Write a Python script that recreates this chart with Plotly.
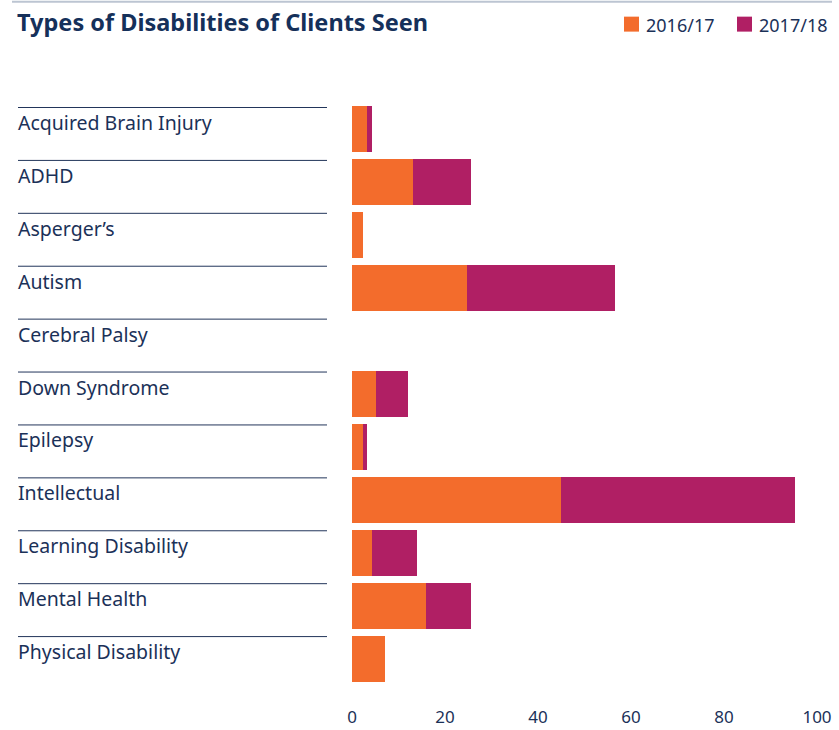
import plotly.graph_objects as go

categories = ["Acquired Brain Injury", "ADHD", "Asperger\u2019s", "Autism", "Cerebral Palsy",
              "Down Syndrome", "Epilepsy", "Intellectual", "Learning Disability",
              "Mental Health", "Physical Disability"]
series_names = ["2016/17", "2017/18"]
values_2016 = [3.2, 13.1, 2.4, 24.7, 0, 5.2, 2.4, 44.9, 4.3, 15.9, 7.1]
values_2017 = [1.1, 12.5, 0, 31.9, 0, 6.9, 0.9, 50.3, 9.7, 9.7, 0]
x_ticks = [0, 20, 40, 60, 80, 100]

ORANGE = "#F36C2C"
PURPLE = "#B01F64"
NAVY = "#1B3158"

W, H = 839, 730
L, R, T, B = 352, 22, 102.5, 44.5
PW = W - L - R
PH = H - T - B

def px_x(px):
    return (px - L) / PW

def px_y(py):
    return (H - B - py) / PH

fig = go.Figure()
fig.add_trace(go.Bar(y=categories, x=values_2016, orientation="h", name=series_names[0],
                     marker=dict(color=ORANGE, line=dict(width=0))))
fig.add_trace(go.Bar(y=categories, x=values_2017, orientation="h", name=series_names[1],
                     marker=dict(color=PURPLE, line=dict(width=0))))

shapes = []
annotations = []
for i, c in enumerate(categories):
    shapes.append(dict(type="line", xref="paper", yref="y",
                       x0=px_x(18), x1=px_x(327), y0=i - 0.415, y1=i - 0.415,
                       line=dict(color="#22355A", width=1)))
    annotations.append(dict(text=c, xref="paper", yref="y", x=px_x(16), y=i,
                            xanchor="left", yanchor="middle", yshift=7, showarrow=False,
                            font=dict(family="Noto Sans", size=19.5, color=NAVY)))

# top rule
shapes.append(dict(type="line", xref="paper", yref="paper",
                   x0=px_x(12), x1=px_x(832), y0=px_y(1), y1=px_y(1),
                   line=dict(color="#BCC5D2", width=2)))

# legend
for sx, col, name in [(624, ORANGE, series_names[0]), (737, PURPLE, series_names[1])]:
    shapes.append(dict(type="rect", xref="paper", yref="paper",
                       x0=px_x(sx), x1=px_x(sx + 15), y0=px_y(31), y1=px_y(16),
                       fillcolor=col, line=dict(width=0)))
    annotations.append(dict(text=name, xref="paper", yref="paper", x=px_x(sx + 20), y=px_y(24),
                            xanchor="left", yanchor="middle", showarrow=False,
                            font=dict(family="Noto Sans", size=18, color=NAVY)))

# title
annotations.append(dict(text="<b>Types of Disabilities of Clients Seen</b>", xref="paper", yref="paper",
                        x=px_x(15), y=px_y(21.5), xanchor="left", yanchor="middle", showarrow=False,
                        font=dict(family="Noto Sans", size=23.5, color="#15305A")))

fig.update_layout(
    width=W, height=H,
    margin=dict(l=L, r=R, t=T, b=B, pad=0, autoexpand=False),
    barmode="stack", bargap=0.13,
    plot_bgcolor="white", paper_bgcolor="white",
    showlegend=False,
    shapes=shapes, annotations=annotations,
    xaxis=dict(range=[0, 100], tickvals=x_ticks, ticktext=[str(v) for v in x_ticks],
               showgrid=False, zeroline=False, showline=False, ticks="",
               tickfont=dict(family="Noto Sans", size=17, color=NAVY),
               ticklabelstandoff=20, automargin=False),
    yaxis=dict(autorange="reversed", showticklabels=False, showgrid=False,
               zeroline=False, showline=False, ticks="", automargin=False),
)

fig.write_html("out.html", config={"displayModeBar": False},
               post_script="document.body.style.margin='0';")
